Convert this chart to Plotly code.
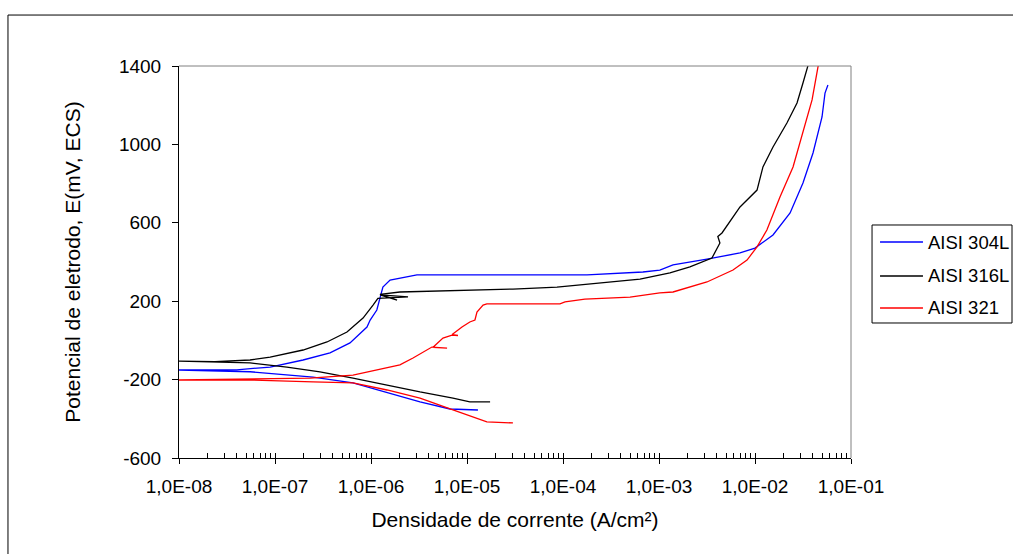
import plotly.graph_objects as go

# ---------------- data ----------------
# current density (A/cm2) and potential (mV, ECS)
# AISI 304L
i304_cat = [1.30e-5, 6.65e-6, 3.24e-6, 1.47e-6, 6.49e-7, 2.49e-7, 1.33e-7, 5.5e-8, 8e-9]
E304_cat = [-355, -350, -314, -268, -217, -187, -177, -160, -150]
i304_an = [8e-9, 4.0e-8, 8.9e-8, 1.96e-7, 3.74e-7, 6.04e-7, 9.08e-7, 9.8e-7, 1.15e-6, 1.33e-6,
           1.58e-6, 2.2e-6, 3.01e-6, 1.78e-4, 6.8e-4, 1.02e-3, 1.40e-3, 3.16e-3, 6.98e-3, 1.0e-2,
           1.54e-2, 2.32e-2, 3.16e-2, 4.02e-2, 4.99e-2, 5.36e-2, 5.75e-2]
E304_an = [-150, -150, -136, -100, -64, -13, 68, 104, 155, 272,
           308, 323, 334, 334, 349, 359, 385, 415, 446, 471,
           538, 650, 803, 956, 1140, 1262, 1303]

# AISI 316L
i316_cat = [1.74e-5, 1.07e-5, 7.14e-6, 3.24e-6, 1.47e-6, 6.49e-7, 2.94e-7, 1.33e-7, 5.5e-8, 8e-9]
E316_cat = [-314, -314, -294, -263, -228, -192, -161, -136, -115, -105]
i316_an = [8e-9, 2.37e-8, 5.5e-8, 8.9e-8, 1.96e-7, 3.48e-7, 5.62e-7, 8.26e-7, 1.05e-6, 1.18e-6,
           2.43e-6, 1.24e-6, 1.87e-6, 1.24e-6, 2.0e-6, 3.01e-5, 8.66e-5, 1.50e-4, 2.87e-4, 6.34e-4,
           1.30e-3, 2.10e-3, 3.56e-3, 4.31e-3, 4.1e-3, 4.53e-3, 6.98e-3, 1.05e-2, 1.21e-2, 1.54e-2,
           2.15e-2, 2.74e-2, 3.16e-2, 3.56e-2, 3.7e-2]
E316_an = [-105, -108, -100, -85, -49, -8, 43, 114, 180, 215,
           222, 232, 206, 235, 247, 262, 272, 283, 298, 313,
           345, 375, 420, 497, 530, 548, 681, 767, 885, 987,
           1109, 1211, 1313, 1400, 1430]

# AISI 321
i321_cat = [3.01e-5, 1.61e-5, 7.14e-6, 3.24e-6, 1.47e-6, 6.49e-7, 2.49e-7, 5.5e-8, 8e-9]
E321_cat = [-421, -416, -355, -294, -253, -217, -212, -202, -202]
i321_an = [8e-9, 2.32e-7, 6.49e-7, 1.47e-6, 2.0e-6, 2.74e-6, 3.48e-6, 4.31e-6, 6.2e-6, 4.4e-6,
           5.62e-6, 6.98e-6, 8.05e-6, 7.0e-6, 8.87e-6, 1.07e-5, 1.21e-5, 1.27e-5, 1.47e-5, 1.61e-5,
           9.3e-5, 1.05e-4, 1.69e-4, 4.99e-4, 1.02e-3, 1.40e-3, 3.16e-3, 5.9e-3, 8.26e-3, 1.05e-2,
           1.33e-2, 1.82e-2, 2.49e-2, 3.16e-2, 3.93e-2, 4.53e-2, 4.7e-2]
E321_an = [-202, -192, -177, -141, -125, -90, -59, -34, -39, -36,
           12, 27, 25, 30, 68, 94, 104, 145, 180, 186,
           186, 196, 211, 221, 242, 247, 298, 359, 410, 477,
           563, 732, 885, 1058, 1227, 1395, 1430]

series_names = ["AISI 304L", "AISI 316L", "AISI 321"]
series_colors = ["#0000FF", "#000000", "#FF0000"]

x_tickvals = [1e-8, 1e-7, 1e-6, 1e-5, 1e-4, 1e-3, 1e-2, 1e-1]
x_ticktext = ["1,0E-08", "1,0E-07", "1,0E-06", "1,0E-05", "1,0E-04", "1,0E-03", "1,0E-02", "1,0E-01"]
y_tickvals = [-600, -200, 200, 600, 1000, 1400]
y_ticktext = ["-600", "-200", "200", "600", "1000", "1400"]

minor_vals = [m * d for d in x_tickvals[:-1] for m in range(2, 10)]

# ---------------- figure ----------------
curves = [
    (i304_cat + i304_an, E304_cat + E304_an),
    (i316_cat + i316_an, E316_cat + E316_an),
    (i321_cat + i321_an, E321_cat + E321_an),
]

fig = go.Figure()
for (xs, ys), name, col in zip(curves, series_names, series_colors):
    fig.add_trace(go.Scatter(x=xs, y=ys, mode="lines", name=name, showlegend=False,
                             line=dict(color=col, width=1.3)))

# helper trace for the inner half of the major x ticks
fig.add_trace(go.Scatter(x=[1e-8], y=[0], xaxis="x2", mode="lines", showlegend=False,
                         hoverinfo="skip", line=dict(color="rgba(0,0,0,0)")))

font_family = "Liberation Sans, Arial, sans-serif"

# legend (drawn in paper coordinates so the plot area is not shrunk)
leg_rows_y = [0.5510, 0.4643, 0.3827]
leg_shapes = []
leg_annots = []
for name, col, yy in zip(series_names, series_colors, leg_rows_y):
    leg_shapes.append(dict(type="line", xref="paper", yref="paper", x0=1.0432, x1=1.1071,
                           y0=yy, y1=yy, line=dict(color=col, width=1.3)))
    leg_annots.append(dict(xref="paper", yref="paper", x=1.1116, y=yy, text=name,
                           showarrow=False, xanchor="left", yanchor="middle",
                           font=dict(size=18.5, color="black")))

fig.update_layout(
    width=1013, height=554,
    margin=dict(l=179, r=162, t=66, b=96),
    paper_bgcolor="white", plot_bgcolor="white",
    font=dict(family=font_family, size=17.5, color="black"),
    showlegend=False,
    xaxis=dict(type="log", range=[-8, -1], tickvals=x_tickvals, ticktext=x_ticktext,
               ticks="outside", ticklen=5, tickcolor="black", tickwidth=1,
               tickfont=dict(size=19), ticklabelstandoff=6,
               showline=True, linecolor="black", linewidth=1, showgrid=False, zeroline=False,
               minor=dict(ticks="inside", ticklen=5, tickvals=minor_vals, tickcolor="black",
                          tickwidth=1, showgrid=False),
               title=dict(text="Densidade de corrente (A/cm²)", standoff=16,
                          font=dict(size=21))),
    xaxis2=dict(type="log", range=[-8, -1], overlaying="x", anchor="y", side="bottom",
                tickvals=x_tickvals, ticks="inside", ticklen=5, tickcolor="black", tickwidth=1,
                showticklabels=False, showline=False, showgrid=False, zeroline=False),
    yaxis=dict(range=[-600, 1400], tickvals=y_tickvals, ticktext=y_ticktext,
               ticks="outside", ticklen=6,
               tickcolor="black", tickwidth=1, tickfont=dict(size=19), ticklabelstandoff=7,
               showline=True, linecolor="black", linewidth=1,
               showgrid=False, zeroline=False,
               title=dict(text="Potencial de eletrodo, E(mV, ECS)", standoff=32,
                          font=dict(size=21))),
    annotations=leg_annots,
    shapes=[
        # plot area top/right border (gray)
        dict(type="line", xref="paper", yref="paper", x0=0, x1=1, y0=1, y1=1,
             line=dict(color="#808080", width=1)),
        dict(type="line", xref="paper", yref="paper", x0=1, x1=1, y0=0, y1=1,
             line=dict(color="#808080", width=1)),
        # legend box
        dict(type="rect", xref="paper", yref="paper", x0=1.0313, x1=1.2396, y0=0.3444, y1=0.5944,
             line=dict(color="black", width=1)),
        # outer chart frame
        dict(type="rect", xref="paper", yref="paper", x0=-0.2545, x1=1.26, y0=-0.26, y1=1.130,
             line=dict(color="black", width=1)),
    ] + leg_shapes,
)

fig.write_html("out.html")
